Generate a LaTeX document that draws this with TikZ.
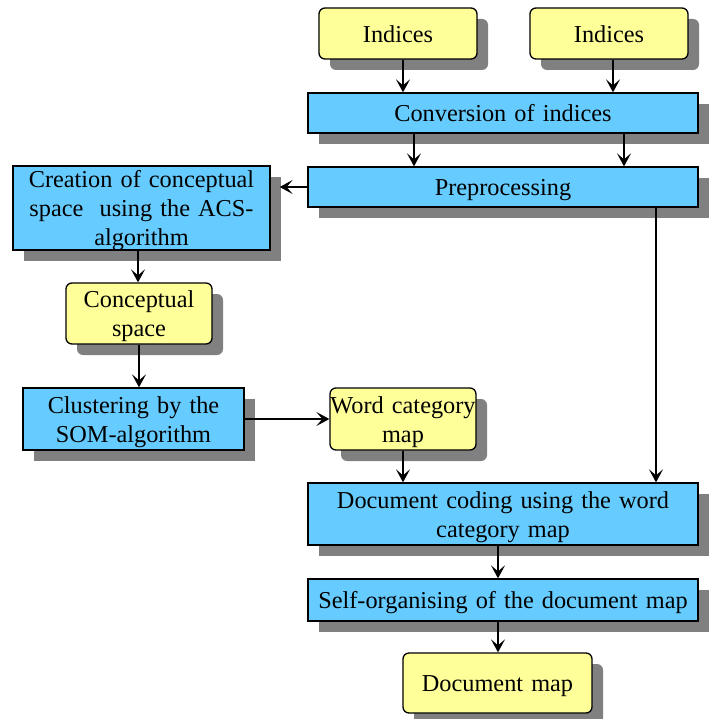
\documentclass[tikz,border=0pt]{standalone}
\usepackage{fontspec}
\setmainfont{Liberation Serif}
\usetikzlibrary{shadows,arrows.meta}
\definecolor{boxblue}{HTML}{66CCFF}
\definecolor{boxyellow}{HTML}{FFFF99}
\definecolor{shadowgray}{HTML}{808080}
\begin{document}
\begin{tikzpicture}[x=1pt,y=-1pt,
  base/.style={draw=black, line width=1.3pt, inner sep=0pt, align=center,
    font=\fontsize{24.3}{29}\selectfont, text height=19.5pt, text depth=2pt,
    drop shadow={shadow xshift=11pt, shadow yshift=-11pt, fill=shadowgray, opacity=1}},
  twolines/.style={text depth=31pt},
  threelines/.style={text depth=60pt},
  bluebox/.style={base, fill=boxblue, rectangle},
  yellowbox/.style={base, fill=boxyellow, rectangle, rounded corners=6pt},
  conn/.style={line width=1.3pt, -{Stealth[length=13pt,width=14pt,inset=6pt]}}
]
\useasboundingbox (0,0) rectangle (716,719);
\node[yellowbox, minimum width=158pt, minimum height=51pt, text width=158pt] (ind1) at (398,33.5) {Indices};
\node[yellowbox, minimum width=158pt, minimum height=51pt, text width=158pt] (ind2) at (609,33.5) {Indices};
\node[bluebox, minimum width=390pt, minimum height=40pt, text width=390pt] (conv) at (503,113) {Conversion of indices};
\node[bluebox, minimum width=390pt, minimum height=40pt, text width=390pt] (prep) at (503,187) {Preprocessing};
\node[bluebox, threelines, minimum width=257pt, minimum height=84pt, text width=257pt] (crea) at (141.5,208) {Creation of conceptual\\space\ \ using the ACS-\\algorithm};
\node[yellowbox, twolines, minimum width=146pt, minimum height=61pt, text width=146pt] (conc) at (139,313.5) {Conceptual\\space};
\node[bluebox, twolines, minimum width=221pt, minimum height=62pt, text width=221pt] (clus) at (133.5,419) {Clustering by the\\SOM-algorithm};
\node[yellowbox, twolines, minimum width=146pt, minimum height=62pt, text width=146pt] (word) at (403,419) {\mbox{Word category}\\map};
\node[bluebox, twolines, minimum width=390pt, minimum height=62pt, text width=390pt] (doc) at (503,514) {Document coding using the word\\category map};
\node[bluebox, minimum width=390pt, minimum height=42pt, text width=390pt] (self) at (503,600) {Self-organising of the document map};
\node[yellowbox, minimum width=189pt, minimum height=60pt, text width=189pt] (dmap) at (497.5,683) {Document map};

\draw[conn] ([xshift=5pt]ind1.south) -- ([xshift=5pt]ind1.south |- conv.north);
\draw[conn] ([xshift=4pt]ind2.south) -- ([xshift=4pt]ind2.south |- conv.north);
\draw[conn] ([xshift=-89pt]conv.south) -- ([xshift=-89pt]conv.south |- prep.north);
\draw[conn] ([xshift=121pt]conv.south) -- ([xshift=121pt]conv.south |- prep.north);
\draw[conn] (prep.west) -- ([xshift=9pt]crea.east |- prep.west);
\draw[conn] ([xshift=-3.5pt]crea.south) -- ([xshift=-3.5pt]crea.south |- conc.north);
\draw[conn] (conc.south) -- (conc.south |- clus.north);
\draw[conn] (clus.east) -- (word.west);
\draw[conn] (word.south) -- (word.south |- doc.north);
\draw[conn] ([xshift=153pt]prep.south) -- ([xshift=153pt]prep.south |- doc.north);
\draw[conn] ([xshift=-5pt]doc.south) -- ([xshift=-5pt]doc.south |- self.north);
\draw[conn] ([xshift=-5pt]self.south) -- ([xshift=-5pt]self.south |- dmap.north);
\end{tikzpicture}
\end{document}
